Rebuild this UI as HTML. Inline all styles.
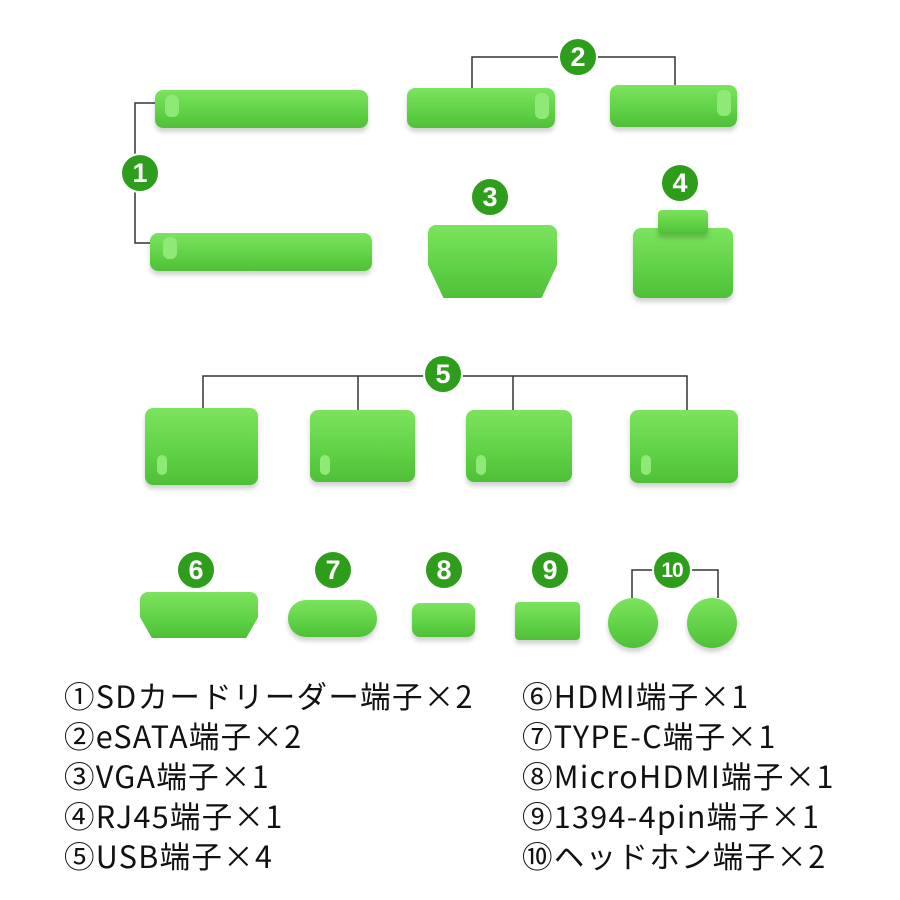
<!DOCTYPE html><html><head><meta charset="utf-8"><style>
body{margin:0;width:900px;height:900px;background:#fff;overflow:hidden;position:relative;font-family:"Liberation Sans","Noto Sans CJK JP",sans-serif}
.p{position:absolute;background:linear-gradient(#7ce35e,#5fd145 60%,#4fbf38);border-radius:8px;box-shadow:0 4px 5px rgba(0,0,0,.18)}
.c{position:absolute;width:40px;height:40px;margin:-20px 0 0 -20px;border-radius:50%;background:#2f9d1c;border:2px solid #fff;box-sizing:border-box;color:#fff;font-weight:bold;font-size:27px;line-height:37px;text-align:center}
.c.s{font-size:21px;letter-spacing:-1px}
.t{position:absolute;font-family:"Noto Sans CJK JP",sans-serif;font-size:30.5px;color:#111;line-height:40px;white-space:nowrap;letter-spacing:1.3px}
.k{position:absolute;background:#8ee976;border-radius:6px}
</style></head><body>
<svg width="900" height="900" style="position:absolute;left:0;top:0" fill="none" stroke="#333" stroke-width="1.5">
<path d="M158 103H135V243H152"/><path d="M472 90V57H675V86"/>
<path d="M203 410V376H687V410M358 376V410M513 376V410"/>
<path d="M632 598V570H718V598"/>
</svg>
<div class="p" style="left:155px;top:90px;width:213px;height:38px"></div>
<div class="k" style="left:165px;top:95px;width:14px;height:22px"></div>
<div class="p" style="left:150px;top:233px;width:222px;height:38px"></div>
<div class="k" style="left:163px;top:237px;width:14px;height:22px"></div>
<div class="p" style="left:407px;top:88px;width:148px;height:40px"></div>
<div class="k" style="left:535px;top:93px;width:14px;height:26px"></div>
<div class="p" style="left:610px;top:85px;width:127px;height:42px"></div>
<div class="k" style="left:717px;top:90px;width:14px;height:26px"></div>
<div class="p" style="left:428px;top:225px;width:129px;height:73px;clip-path:polygon(0 0,100% 0,100% 55%,88% 100%,12% 100%,0 55%)"></div>
<div class="p" style="left:633px;top:228px;width:100px;height:70px"></div>
<div class="p" style="left:658px;top:210px;width:50px;height:24px;border-radius:4px"></div>
<div class="p" style="left:145px;top:408px;width:113px;height:77px"></div>
<div class="p" style="left:310px;top:410px;width:105px;height:72px"></div>
<div class="p" style="left:466px;top:410px;width:106px;height:72px"></div>
<div class="p" style="left:630px;top:410px;width:108px;height:73px"></div>
<div class="k" style="left:157px;top:455px;width:10px;height:20px"></div>
<div class="k" style="left:320px;top:455px;width:10px;height:20px"></div>
<div class="k" style="left:476px;top:455px;width:10px;height:20px"></div>
<div class="k" style="left:641px;top:455px;width:10px;height:20px"></div>
<div class="p" style="left:140px;top:592px;width:118px;height:46px;clip-path:polygon(0 0,100% 0,100% 55%,90% 100%,10% 100%,0 55%)"></div>
<div class="p" style="left:288px;top:600px;width:89px;height:37px;border-radius:18px"></div>
<div class="p" style="left:412px;top:603px;width:63px;height:34px"></div>
<div class="p" style="left:515px;top:602px;width:65px;height:38px;border-radius:4px"></div>
<div class="p" style="left:608px;top:598px;width:50px;height:50px;border-radius:50%"></div>
<div class="p" style="left:687px;top:598px;width:50px;height:50px;border-radius:50%"></div>
<div class="c" style="left:140px;top:173px">1</div>
<div class="c" style="left:578px;top:57px">2</div>
<div class="c" style="left:490px;top:197px">3</div>
<div class="c" style="left:680px;top:183px">4</div>
<div class="c" style="left:443px;top:374px">5</div>
<div class="c" style="left:196px;top:570px">6</div>
<div class="c" style="left:333px;top:570px">7</div>
<div class="c" style="left:444px;top:570px">8</div>
<div class="c" style="left:550px;top:570px">9</div>
<div class="c s" style="left:672px;top:570px">10</div>
<div class="t" style="left:64px;top:675px">①SDカードリーダー端子×2</div>
<div class="t" style="left:64px;top:715px">②eSATA端子×2</div>
<div class="t" style="left:64px;top:755px">③VGA端子×1</div>
<div class="t" style="left:64px;top:795px">④RJ45端子×1</div>
<div class="t" style="left:64px;top:835px">⑤USB端子×4</div>
<div class="t" style="left:522px;top:675px">⑥HDMI端子×1</div>
<div class="t" style="left:522px;top:715px">⑦TYPE-C端子×1</div>
<div class="t" style="left:522px;top:755px">⑧MicroHDMI端子×1</div>
<div class="t" style="left:522px;top:795px">⑨1394-4pin端子×1</div>
<div class="t" style="left:522px;top:835px">⑩ヘッドホン端子×2</div>
</body></html>
